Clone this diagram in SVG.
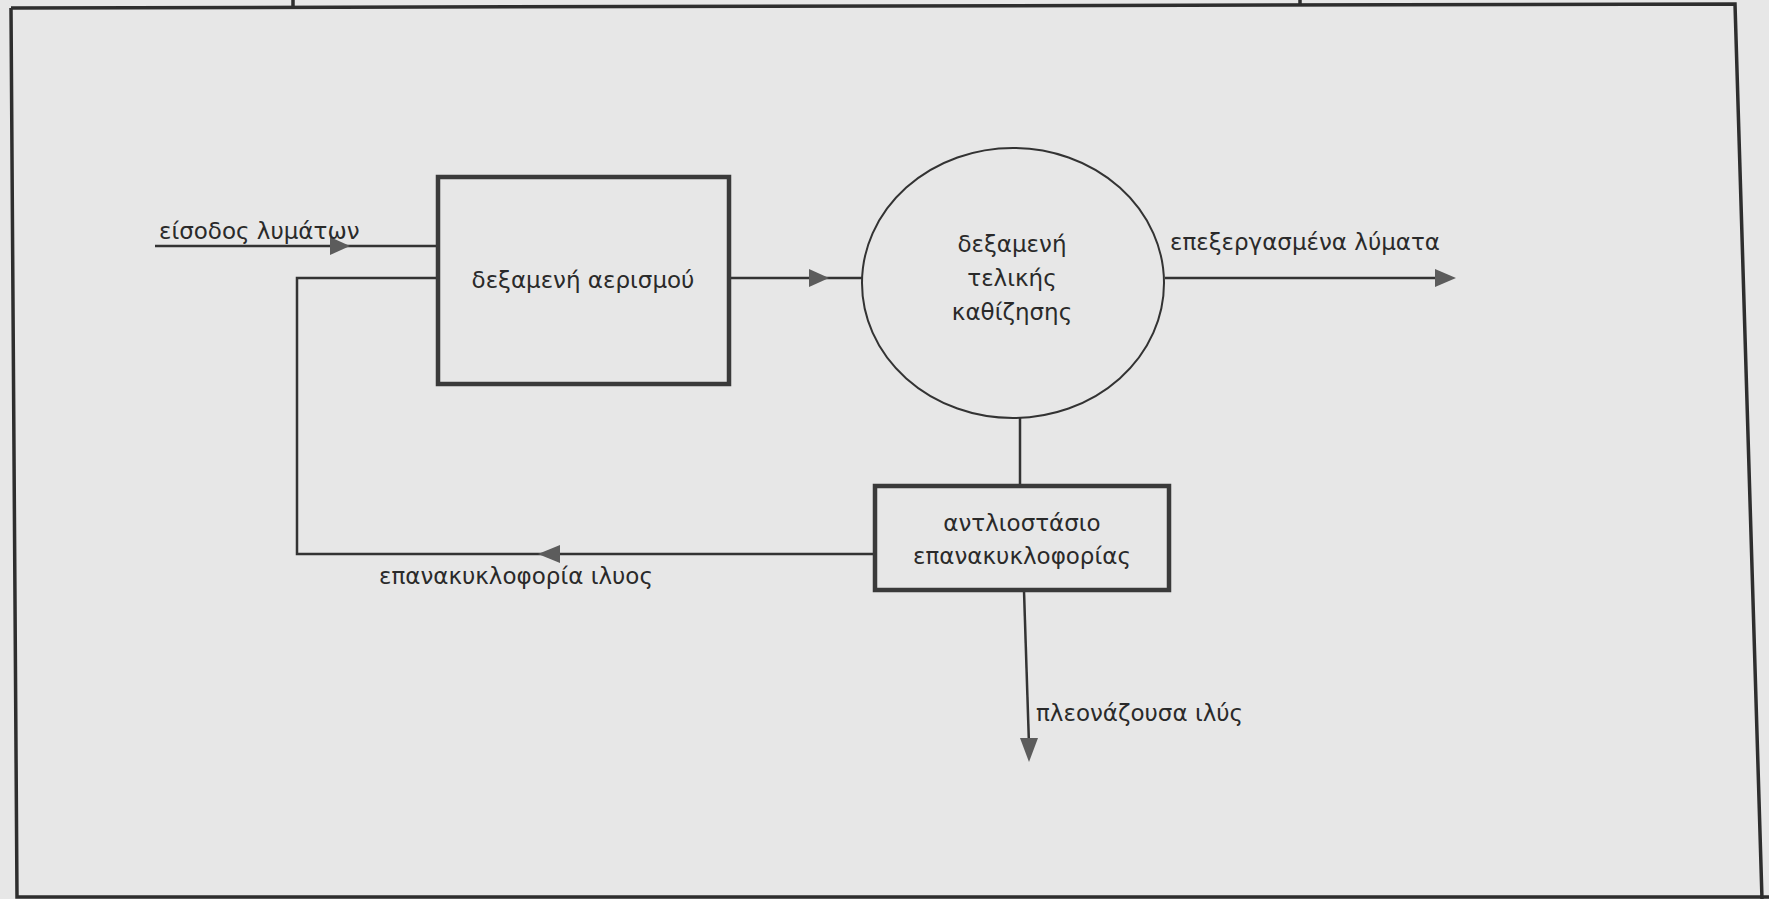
<svg xmlns="http://www.w3.org/2000/svg" width="1769" height="899" viewBox="0 0 1769 899">
<defs>
<style>
.frame{fill:none;stroke:#2e2e2e;stroke-width:3.5}
.box{fill:none;stroke:#3a3a3a;stroke-width:4.5}
.ell{fill:none;stroke:#333;stroke-width:2}
.ln{fill:none;stroke:#333;stroke-width:2.5}
.ah{fill:#5c5c5c}
.t{font-family:"DejaVu Sans","Liberation Sans",sans-serif;font-size:23px;fill:#2a2a2a}
.c{text-anchor:middle}
</style>
</defs>
<rect x="0" y="0" width="1769" height="899" fill="#e7e7e7"/>
<g id="frame">
<path class="frame" d="M11,8 L1735,4 L1762,899 M11,8 L17,897 L1769,897"/>
<line class="frame" x1="293" y1="0" x2="293" y2="8"/>
<line class="frame" x1="1300" y1="0" x2="1300" y2="6"/>
</g>
<g id="connectors">
<line class="ln" x1="155" y1="246" x2="438" y2="246"/>
<polygon class="ah" points="350,246 330,237 330,255"/>
<line class="ln" x1="730" y1="278" x2="862" y2="278"/>
<polygon class="ah" points="829,278 809,269 809,287"/>
<line class="ln" x1="1165" y1="278" x2="1440" y2="278"/>
<polygon class="ah" points="1456,278 1435,269 1435,287"/>
<line class="ln" x1="1020" y1="417" x2="1020" y2="486"/>
<path class="ln" d="M875,554 L297,554 L297,278 L438,278"/>
<polygon class="ah" points="538,554 560,545 560,563"/>
<line class="ln" x1="1024" y1="591" x2="1029" y2="745"/>
<polygon class="ah" points="1029,762 1020,738 1038,738"/>
<text class="t" x="159" y="239">είσοδος λυμάτων</text>
<text class="t" x="1170" y="250">επεξεργασμένα λύματα</text>
<text class="t" x="379" y="584">επανακυκλοφορία ιλυος</text>
<text class="t" x="1036" y="721">πλεονάζουσα ιλύς</text>
</g>
<g id="aeration">
<rect class="box" x="438" y="177" width="291" height="207"/>
<text class="t c" x="583" y="288">δεξαμενή αερισμού</text>
</g>
<g id="clarifier">
<ellipse class="ell" cx="1013" cy="283" rx="151" ry="135"/>
<text class="t c" x="1012" y="252">δεξαμενή</text>
<text class="t c" x="1012" y="286">τελικής</text>
<text class="t c" x="1012" y="320">καθίζησης</text>
</g>
<g id="pump">
<rect class="box" x="875" y="486" width="294" height="104"/>
<text class="t c" x="1022" y="531">αντλιοστάσιο</text>
<text class="t c" x="1022" y="564">επανακυκλοφορίας</text>
</g>
</svg>
